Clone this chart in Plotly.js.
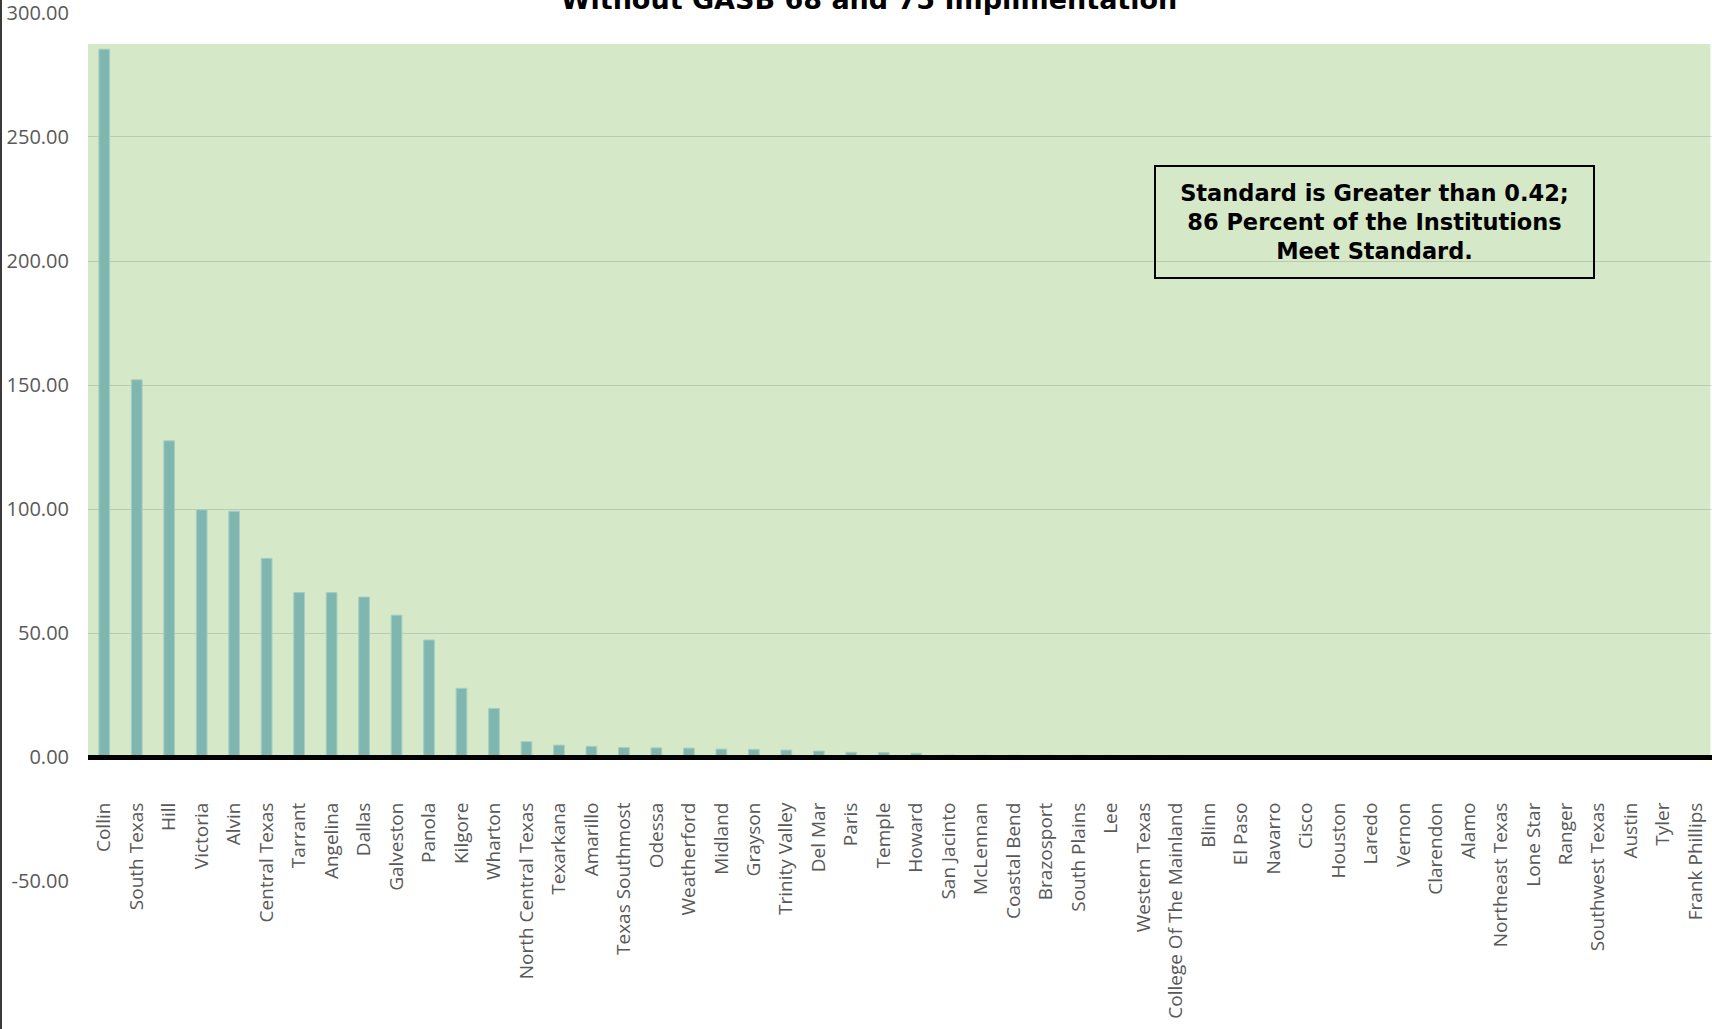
<!DOCTYPE html>
<html>
<head>
<meta charset="utf-8">
<script src="https://cdn.plot.ly/plotly-3.0.1.min.js"></script>
<style>
  html, body { margin: 0; padding: 0; background: #ffffff; }
  #chart { width: 1712px; height: 1029px; }
</style>
</head>
<body>
<div id="chart"></div>
<script>
// ---- Data ----
const institutions = [
  "Collin", "South Texas", "Hill", "Victoria", "Alvin", "Central Texas", "Tarrant",
  "Angelina", "Dallas", "Galveston", "Panola", "Kilgore", "Wharton", "North Central Texas",
  "Texarkana", "Amarillo", "Texas Southmost", "Odessa", "Weatherford", "Midland", "Grayson",
  "Trinity Valley", "Del Mar", "Paris", "Temple", "Howard", "San Jacinto", "McLennan",
  "Coastal Bend", "Brazosport", "South Plains", "Lee", "Western Texas", "College Of The Mainland",
  "Blinn", "El Paso", "Navarro", "Cisco", "Houston", "Laredo", "Vernon", "Clarendon", "Alamo",
  "Northeast Texas", "Lone Star", "Ranger", "Southwest Texas", "Austin", "Tyler", "Frank Phillips"
];
const ratioValues = [
  285.4, 152.1, 127.5, 99.7, 99.1, 80.1, 66.3,
  66.3, 64.5, 57.2, 47.2, 27.7, 19.6, 6.2,
  4.8, 4.3, 3.8, 3.7, 3.6, 3.2, 3.1,
  2.8, 2.4, 1.9, 1.8, 1.5, 0.74, 0.72,
  0.70, 0.68, 0.66, 0.64, 0.62, 0.61,
  0.59, 0.58, 0.56, 0.54, 0.53, 0.51, 0.49, 0.47, 0.45,
  0.40, 0.36, 0.33, 0.29, 0.21, 0.12, -0.05
];
const yTickValues = [-50, 0, 50, 100, 150, 200, 250, 300];
const yTickLabels = yTickValues.map(v => v.toFixed(2));
const shadedTop = 287.5;
const chartTitle = "Without GASB 68 and 75 Implimentation";
const noteText = "Standard is Greater than 0.42;<br>86 Percent of the Institutions<br>Meet Standard.";

// ---- Layout constants ----
const W = 1712, H = 1029;
const mL = 88, mR = 0, mT = 12, mB = 147;
const plotW = W - mL - mR, plotH = H - mT - mB;
const yMin = -50.4, yMax = 300.4;

const trace = {
  type: "bar",
  x: institutions,
  y: ratioValues,
  marker: { color: "#80b6b0", line: { color: "#a6cec4", width: 1 } },
  hoverinfo: "skip"
};

const layout = {
  width: W, height: H,
  margin: { l: mL, r: mR, t: mT, b: mB, pad: 0 },
  paper_bgcolor: "#ffffff",
  plot_bgcolor: "#ffffff",
  showlegend: false,
  bargap: 0.67,
  title: {
    text: chartTitle,
    font: { family: "DejaVu Sans", size: 27, color: "#000000", weight: 700 },
    xref: "container", x: 869 / W, xanchor: "center",
    yref: "container", y: 1, yanchor: "middle"
  },
  xaxis: {
    type: "category",
    categoryorder: "array",
    categoryarray: institutions,
    range: [-0.5, institutions.length - 0.5],
    anchor: "free",
    position: (0 - yMin) / (yMax - yMin),
    showline: true,
    linecolor: "#000000",
    linewidth: 5,
    showgrid: false,
    zeroline: false,
    ticks: "",
    tickangle: -90,
    ticklabelstandoff: 35,
    tickfont: { family: "Open Sans", size: 19, color: "#595959" },
    fixedrange: true
  },
  yaxis: {
    range: [yMin, yMax],
    tickmode: "array",
    tickvals: yTickValues,
    ticktext: yTickLabels,
    ticklabeloverflow: "allow",
    showgrid: true,
    gridcolor: "rgba(0,0,0,0.12)",
    gridwidth: 1,
    zeroline: false,
    showline: false,
    ticks: "",
    ticklabelstandoff: 18,
    tickfont: { family: "Open Sans", size: 20, color: "#595959" },
    fixedrange: true
  },
  shapes: [
    {
      type: "rect", layer: "below",
      xref: "paper", x0: 0, x1: 0.999,
      yref: "y", y0: 0, y1: shadedTop,
      fillcolor: "#d5e8c8", line: { width: 0 }
    },
    {
      type: "line", layer: "above",
      xref: "paper", x0: (1 - mL) / plotW, x1: (1 - mL) / plotW,
      yref: "paper", y0: -mB / plotH - 0.01, y1: 1 + mT / plotH + 0.01,
      line: { color: "#3a3a3a", width: 2 }
    }
  ],
  annotations: [
    {
      text: noteText,
      showarrow: false,
      xref: "paper", x: (1374.5 - mL) / plotW, xanchor: "center",
      yref: "paper", y: (mT + plotH - 222) / plotH, yanchor: "middle",
      align: "center",
      width: 437, height: 110,
      bordercolor: "#000000", borderwidth: 2, borderpad: 0,
      font: { family: "DejaVu Sans", size: 22.5, color: "#000000", weight: 700 }
    }
  ]
};

Plotly.newPlot("chart", [trace], layout, { staticPlot: true, displayModeBar: false });
</script>
</body>
</html>
